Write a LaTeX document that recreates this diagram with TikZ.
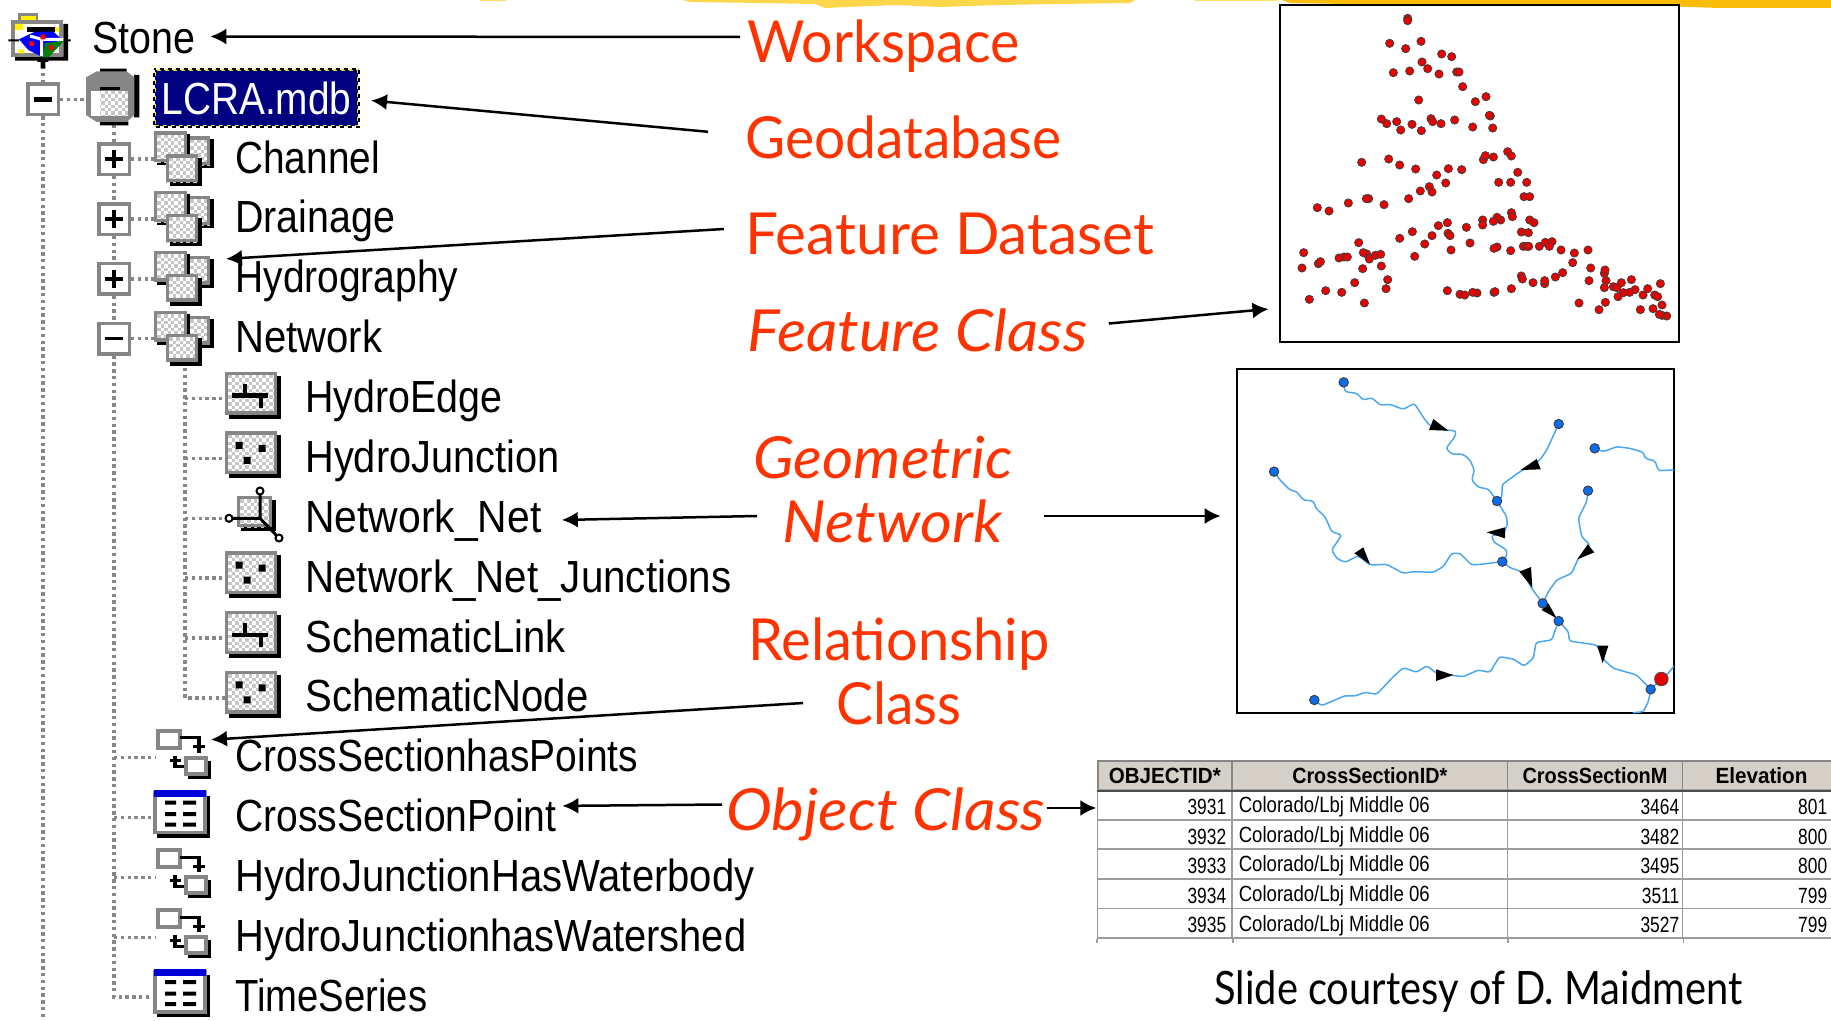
\documentclass[tikz,border=0pt]{standalone}
\usepackage{fontspec}
\usepackage{graphicx}
\usetikzlibrary{arrows.meta,backgrounds}
\setmainfont{Liberation Sans}
\newfontfamily\lblfont{Lato}
\newfontfamily\cellfont[FakeStretch=0.79]{Liberation Sans}
\newlength\pxu \setlength\pxu{0.5pt}
\newcommand\tw[2]{\resizebox{#1\pxu}{\height}{#2}}
\definecolor{wingray}{HTML}{868686}
\definecolor{chkgray}{HTML}{C6C6C6}
\definecolor{lblred}{HTML}{FF3300}
\definecolor{riverblue}{HTML}{4AA8F2}
\definecolor{nodeblue}{HTML}{0A6CF0}
\definecolor{hdrgray}{HTML}{D4D0C8}
\definecolor{cellline}{HTML}{9C9C9C}
\newcommand\chk[4]{%
  \fill[white] (#1,#2) rectangle (#3,#4);
  \begin{scope}
    \clip (#1,#2) rectangle (#3,#4);
    \foreach \k in {0,...,11} {
      \pgfmathsetmacro\yy{#2+1.7+3.4*\k}
      \pgfmathsetmacro\ph{mod(\k,2)*1.7}
      \draw[chkgray,line width=1.7pt,dash pattern=on 1.7pt off 1.7pt,dash phase=\ph pt] (#1,\yy) -- (#3,\yy);
    }
  \end{scope}}
\newcommand\frm[4]{\draw[wingray,line width=1.7pt] (#1+1.7,#2+1.7) rectangle (#3-1.7,#4-1.7);}
\tikzset{
  tree/.style={anchor=base west,inner sep=0pt,yshift=-0.75pt,font=\fontsize{22.5}{24}\selectfont},
  lbl/.style={anchor=base west,inner sep=0pt,text=lblred,text height=21pt,text depth=6pt,font=\lblfont\fontsize{29}{30}\selectfont},
  lbli/.style={lbl,font=\lblfont\itshape\fontsize{29}{30}\selectfont},
  arr/.style={draw=black,line width=1.25pt,-{Latex[length=8pt,width=8pt]}},
  dots/.style={wingray,line width=1.7pt,dash pattern=on 1.7pt off 1.7pt},
  bx/.style={draw=wingray,fill=white,line width=1.7pt,minimum size=15.2pt,inner sep=0pt},
  mapframe/.style={draw=black,fill=white,line width=1pt,inner sep=0pt},
  sign/.style={black,line width=2.2pt},
  cell/.style={draw=cellline,line width=0.8pt,inner sep=0pt,minimum height=14.75pt,font=\cellfont\fontsize{11}{12}\selectfont},
  hdr/.style={draw=wingray,fill=hdrgray,line width=0.9pt,inner sep=0pt,minimum height=14.5pt,font=\bfseries\fontsize{11}{12}\selectfont},
  river/.style={riverblue,line width=0.75pt,line join=round,line cap=round,rounded corners=1.2pt},
  mdot/.style={draw=black!75,fill=red!92!black,line width=0.4pt},
  ndot/.style={draw=black!75,fill=nodeblue,line width=0.5pt},
  dsicon/.pic={
    \fill[black] (5,-20) rectangle (30,9);
    \chk{3}{-23}{26}{6}\frm{3}{-23}{26}{6}
    \fill[black] (-27,-25) rectangle (6,6);
    \chk{-30}{-28}{3}{3}\frm{-30}{-28}{3}{3}
    \fill[black] (-14,-1) rectangle (18,27);
    \chk{-18}{-5}{14}{23}\frm{-18}{-5}{14}{23}
  },
  lineicon/.pic={
    \fill[black] (4,-23) rectangle (56,20);
    \chk{0}{-27}{52}{16}\frm{0}{-27}{52}{16}
    \draw[black,line width=2.3pt] (7,-3) -- (43,-3) (20,-15) -- (20,-3) (36,-3) -- (36,9);
  },
  pointicon/.pic={
    \fill[black] (4,-23) rectangle (56,20);
    \chk{0}{-27}{52}{16}\frm{0}{-27}{52}{16}
    \fill[black] (10.5,-16.5) rectangle (17.5,-9.5) (33.5,-13.5) rectangle (40.5,-6.5) (18.5,-1.5) rectangle (25.5,5.5);
  },
  relicon/.pic={
    \fill[white] (-28,-28) rectangle (-5,-9);
    \draw[wingray,line width=2pt] (-27,-27) rectangle (-5,-10);
    \draw[black,line width=1.7pt] (-5,-20) -- (14,-20) -- (14,-15);
    \draw[black,line width=1.7pt] (8,-11) -- (20,-11) (14,-17) -- (14,-5);
    \draw[black,line width=1.7pt] (-15,3) -- (-4,3) (-10,-2) -- (-10,8) (-10,3) -- (-10,9) -- (1,9);
    \fill[black] (3,3) rectangle (26,21);
    \fill[white] (0,-1) rectangle (22,17);
    \draw[wingray,line width=2pt] (1,0) rectangle (21,16);
  },
  tblicon/.pic={
    \fill[black] (-27,-22) rectangle (26,20);
    \fill[white] (-30,-27) rectangle (22,16);
    \draw[wingray,line width=1.7pt] (-29,-25) rectangle (21,15);
    \fill[blue!85!black] (-30,-28) rectangle (22,-21);
    \foreach \ty in {-15,-3.5,7} {
      \fill[black] (-19,\ty-2) rectangle (-8,\ty+2) (-1,\ty-2) rectangle (12,\ty+2);
    }
  },
}
\begin{document}
\begin{tikzpicture}[x=0.5pt,y=-0.5pt]
\useasboundingbox (0,0) rectangle (1831,1021);

% --- yellow streaks along the top edge
\fill[yellow!55!orange!60] (480,0) -- (506,0) -- (506,1) -- (480,1) -- cycle;
\fill[yellow!60!orange!70] (683,0) -- (1135,0) -- (1130,3) -- (1060,4) -- (1000,5) -- (940,7) -- (895,5) -- (825,8) -- (815,4) -- (760,3) -- (690,2) -- cycle;
\fill[yellow!70!orange!60] (1195,0) -- (1277,0) -- (1277,1) -- (1195,1) -- cycle;
\fill[yellow!50!orange] (1282,0) -- (1831,0) -- (1831,8) -- (1720,8) -- (1690,7) -- (1600,4) -- (1400,5) -- (1290,3) -- cycle;

% --- Stone icon (zoom-crop coordinates)
\begin{scope}[x=0.16667pt,y=-0.16667pt]
  \fill[wingray] (55,38) rectangle (115,62);
  \fill[yellow] (62,48) rectangle (108,60);
  \fill[black] (45,170) rectangle (204,182) (190,72) rectangle (204,182);
  \fill[wingray] (33,60) rectangle (190,170);
  \fill[white] (45,72) rectangle (178,158);
  \fill[yellow] (45,72) rectangle (70,90) (160,82) rectangle (178,95) (55,148) rectangle (72,160);
  \fill[black] (80,82) rectangle (165,96);
  \fill[blue] (57,118) -- (105,95) -- (160,95) -- (182,115) -- (125,170) -- (85,150) -- cycle;
  \fill[black] (25,118) rectangle (57,124) (182,118) rectangle (212,124);
  \fill[green!50!black] (135,130) -- (192,122) -- (125,195) -- cycle;
  \fill[black] (112,172) rectangle (145,186) (122,186) rectangle (136,205);
  \draw[white,line width=1.5pt] (90,108) -- (125,118) -- (125,168) (125,118) -- (190,118);
  \fill[red] (88,124) rectangle (102,138) (122,104) rectangle (136,118) (147,136) rectangle (160,150);
\end{scope}

% --- geodatabase icon
\begin{scope}[x=0.16667pt,y=-0.16667pt]
  \fill[black] (402,225) rectangle (418,352) (300,206) rectangle (380,218) (300,364) rectangle (385,376);
  \fill[wingray] (258,232) -- (290,214) -- (380,214) -- (403,232) -- (403,345) -- (380,366) -- (290,366) -- (258,345) -- cycle;
  \fill[black] (300,260) rectangle (360,270);
\end{scope}
\chk{91}{91}{128}{116}
\fill[white] (91,91) rectangle (100,116);

% --- tree: expander boxes
\node[bx] (bxLCRA) at (43,99.35) {};
\node[bx] (bxChannel) at (114,159.2) {};
\node[bx] (bxDrainage) at (114,219.05) {};
\node[bx] (bxHydro) at (114,278.9) {};
\node[bx] (bxNetwork) at (114,338.75) {};
\draw[sign] (bxLCRA.center) ++(-9,0) -- ++(18,0);
\draw[sign] (bxChannel.center) ++(-9,0) -- ++(18,0) (bxChannel.center) ++(0,-9) -- ++(0,18);
\draw[sign] (bxDrainage.center) ++(-9,0) -- ++(18,0) (bxDrainage.center) ++(0,-9) -- ++(0,18);
\draw[sign] (bxHydro.center) ++(-9,0) -- ++(18,0) (bxHydro.center) ++(0,-9) -- ++(0,18);
\draw[black,line width=1.5pt] (bxNetwork.center) ++(-9,0) -- ++(18,0);

% --- tree: icon anchor coordinates and icons
\coordinate (icStone) at (43,66);
\coordinate (icDB) at (86,99.35);
\coordinate (icDBb) at (114,125);
\coordinate (icChannel) at (184,159.2);
\coordinate (icDrainage) at (184,219.05);
\coordinate (icHydro) at (184,278.9);
\coordinate (icNetwork) at (184,338.75);
\coordinate (icNetB) at (185,368);
\coordinate (icEdge) at (225,398.6);
\coordinate (icJunc) at (225,458.45);
\coordinate (icNet) at (225,518.3);
\coordinate (icNetJ) at (225,578.15);
\coordinate (icSLink) at (225,638);
\coordinate (icSNode) at (225,697.85);
\coordinate (icCSP) at (155,757.7);
\coordinate (icCSPt) at (155,817.55);
\coordinate (icHJW) at (155,877.4);
\coordinate (icHJS) at (155,937.25);
\coordinate (icTS) at (155,997.1);
\coordinate (spineEnd) at (43,1021);
\pic at (icChannel) {dsicon};
\pic at (icDrainage) {dsicon};
\pic at (icHydro) {dsicon};
\pic at (icNetwork) {dsicon};
\pic at (icEdge) {lineicon};
\pic at (icJunc) {pointicon};
\pic at (icNetJ) {pointicon};
\pic at (icSLink) {lineicon};
\pic at (icSNode) {pointicon};
% network icon
\fill[black] (241,500) rectangle (276,531);
\chk{237}{496}{272}{527}\frm{237}{496}{272}{527}
\draw[black,line width=1.5pt] (260,518.3) -- (260,495) (260,518.3) -- (232,518.3) (260,518.3) -- (278,537);
\draw[black,fill=white,line width=1pt] (260,491) circle (3.5) (229,518.3) circle (3.5) (279,538) circle (3.5);
\pic at (185,757.7) {relicon};
\pic at (184,817.55) {tblicon};
\pic at (185,877.4) {relicon};
\pic at (185,937.25) {relicon};
\pic at (184,997.1) {tblicon};

% --- tree: labels
\node[tree] (tStone) at (92,52) {\tw{103}{Stone}};
\node[fill=blue!50!black,draw=yellow!90!black,dash pattern=on 2pt off 2pt,line width=1pt,minimum width=101.5pt,minimum height=28pt,inner sep=0pt,text=white,font=\fontsize{22.5}{24}\selectfont] (tLCRA) at (256.5,98) {\tw{190}{LCRA.mdb}};
\draw[black,line width=1pt,dash pattern=on 2pt off 2pt,dash phase=2pt] (tLCRA.north west) rectangle (tLCRA.south east);
\node[tree] (tChannel) at (235,171.7) {\tw{144.5}{Channel}};
\node[tree] (tDrainage) at (235,231.5) {\tw{159.7}{Drainage}};
\node[tree] (tHydro) at (235,291.4) {\tw{223}{Hydrography}};
\node[tree] (tNetwork) at (235,351.2) {\tw{147}{Network}};
\node[tree] (tEdge) at (305,411) {\tw{197}{HydroEdge}};
\node[tree] (tJunc) at (305,471) {\tw{254}{HydroJunction}};
\node[tree] (tNet) at (305,530.8) {\tw{236}{Network\_Net}};
\node[tree] (tNetJ) at (305,590.6) {\tw{426}{Network\_Net\_Junctions}};
\node[tree] (tSLink) at (305,650.5) {\tw{260}{SchematicLink}};
\node[tree] (tSNode) at (305,710.3) {\tw{283}{SchematicNode}};
\node[tree] (tCSP) at (235,770.2) {\tw{402.6}{CrossSectionhasPoints}};
\node[tree] (tCSPt) at (235,830) {\tw{321}{CrossSectionPoint}};
\node[tree] (tHJW) at (235,889.9) {\tw{519}{HydroJunctionHasWaterbody}};
\node[tree] (tHJS) at (235,949.7) {\tw{511}{HydroJunctionhasWatershed}};
\node[tree] (tTS) at (235,1009.6) {\tw{192}{TimeSeries}};

% --- tree: dotted connectors
\begin{pgfonlayer}{background}
  \draw[dots] (icStone) -- (bxLCRA.north);
  \draw[dots] (bxLCRA.south) -- (spineEnd);
  \draw[dots] (bxLCRA.east) -- (icDB);
  \draw[dots] (icDBb) -- (bxChannel.north);
  \draw[dots] (bxChannel.south) -- (bxDrainage.north);
  \draw[dots] (bxDrainage.south) -- (bxHydro.north);
  \draw[dots] (bxHydro.south) -- (bxNetwork.north);
  \draw[dots] (bxNetwork.south) -- (114,997.1) -- (icTS);
  \draw[dots] (bxChannel.east) -- (icChannel);
  \draw[dots] (bxDrainage.east) -- (icDrainage);
  \draw[dots] (bxHydro.east) -- (icHydro);
  \draw[dots] (bxNetwork.east) -- (icNetwork);
  \draw[dots] (icNetB) -- (185,697.85) -- (icSNode);
  \draw[dots] (185,398.6) -- (icEdge);
  \draw[dots] (185,458.45) -- (icJunc);
  \draw[dots] (185,518.3) -- (icNet);
  \draw[dots] (185,578.15) -- (icNetJ);
  \draw[dots] (185,638) -- (icSLink);
  \draw[dots] (114,757.7) -- (icCSP);
  \draw[dots] (114,817.55) -- (icCSPt);
  \draw[dots] (114,877.4) -- (icHJW);
  \draw[dots] (114,937.25) -- (icHJS);
\end{pgfonlayer}

% --- red labels
\node[lbl] (lWork) at (747,63) {\tw{272}{Workspace}};
\node[lbl] (lGeo) at (745,158.8) {\tw{316}{Geodatabase}};
\node[lbl] (lFD) at (745,254.5) {\tw{409}{Feature Dataset}};
\node[lbli] (lFC) at (747,351) {\tw{340}{Feature Class}};
\node[lbli] (lGeom) at (753,478) {\tw{259}{Geometric}};
\node[lbli] (lNet) at (782,542) {\tw{220}{Network}};
\node[lbl] (lRel) at (748,660) {\tw{301}{Relationship}};
\node[lbl] (lCls) at (836,724) {\tw{125}{Class}};
\node[lbli] (lObj) at (726,830) {\tw{319}{Object Class}};
\node[anchor=base west,inner sep=0pt,text=black,font=\lblfont\fontsize{23}{24}\selectfont] (lSlide) at (1214,1004) {\tw{528}{Slide courtesy of D. Maidment}};

% --- point map
\node[mapframe,minimum width=199.5pt,minimum height=168.5pt] (ptmap) at (1479.5,173.5) {};
\begin{scope}[shift={(1270,0)},x=0.16667pt,y=-0.16667pt]
  \foreach \px/\py in {413/55,413/62,359/130,407/146,453/124,515/162,545/170,456/186,473/206,419/213,370/218,507/222,560/216,567/216,578/260,446/300,616/305,648/290,661/348,658/346,334/357,350/371,380/365,392/390,426/373,454/392,483/356,488/365,513/371,554/360,608/381,668/384,713/455,724/468,670/471,640/479,646/467,275/487,356/477,389/495,437/507,535/506,575/509,500/525,527/549,743/517,686/547,722/547,770/547,478/560,486/576,451/573,416/596,762/590,779/590,296/596,289/596,235/609,142/623,177/633,342/614,724/638,727/650,692/660,681/652,670/664,638/660,638/675,779/660,792/668,532/668,505/677,589/682,427/695,389/715,486/707,534/700,540/707,754/696,775/698,464/732,600/729,543/750,681/741,672/745,722/752,760/739,770/739,776/739,808/739,846/725,826/727,838/739,873/750,913/759,954/750,266/728,101/758,290/762,280/758,298/777,316/766,332/763,207/774,222/771,232/771,145/791,151/785,96/804,278/806,334/798,353/839,254/848,348/866,167/872,215/877,118/898,283/909,434/769,532/872,570/883,584/885,621/879,608/877,672/877,675/875,724/866,754/828,757/837,789/848,824/851,824/842,856/831,878/818,908/788,962/804,957/842,1003/820,1005/810,1008/842,1003/863,1030/860,1041/863,1054/848,1084/839,1095/869,1079/877,1060/878,1044/890,1119/885,1133/866,1171/851,1154/885,1163/890,1176/915,1006/907,927/909,987/929,1111/929,1149/926,1190/948,1176/946,1168/943}
    {\path[mdot] (\px,\py) circle (2.05pt);}
\end{scope}

% --- network map
\node[mapframe,minimum width=218.8pt,minimum height=171.8pt] (netmap) at (1455.5,541) {};
\begin{scope}[shift={(1230,365)},x=0.16667pt,y=-0.16667pt]
  \draw[river] (341,52)--(345,80)--(380,85)--(400,105)--(425,98)--(450,120)--(480,118)--(520,133)--(553,115)--(585,165)--(610,192)--(650,195)--(678,198)--(675,215)--(648,250)--(665,267)--(700,268)--(720,285)--(733,315)--(725,345)--(745,367)--(775,372)--(801,408);
  \draw[river] (986,177)--(950,255)--(930,285)--(905,300)--(870,320)--(817,358)--(815,400)--(801,408);
  \draw[river] (132,320)--(150,345)--(180,375)--(200,380)--(220,405)--(250,408)--(258,430)--(285,455)--(305,500)--(335,510)--(305,555)--(320,580)--(345,592)--(385,572)--(420,600)--(470,598)--(520,625)--(550,620)--(610,622)--(640,605)--(665,565)--(690,565)--(725,600)--(760,597)--(817,590);
  \draw[river] (801,408)--(830,455)--(832,480)--(818,510)--(785,510)--(790,530)--(830,555)--(830,572)--(817,590);
  \draw[river] (817,590)--(840,608)--(880,622)--(905,670)--(938,715);
  \draw[river] (1074,377)--(1070,410)--(1045,460)--(1055,515)--(1080,540)--(1045,580)--(1025,625)--(980,645)--(955,680)--(938,715);
  \draw[river] (938,715)--(986,768);
  \draw[river] (986,768)--(1015,800)--(1018,828)--(1100,840)--(1122,885)--(1150,910)--(1220,930)--(1262,973);
  \draw[river] (253,1005)--(275,1022)--(345,992)--(375,993)--(405,982)--(440,988)--(490,935)--(520,908)--(560,922)--(590,902)--(620,925)--(700,935)--(745,915)--(780,922)--(808,875)--(850,882)--(882,903)--(910,880)--(918,832)--(965,825)--(986,768);
  \draw[river] (1094,250)--(1120,260)--(1160,245)--(1200,250)--(1240,262)--(1245,280)--(1275,288)--(1285,317)--(1330,315);
  \draw[river] (1262,973)--(1255,1010)--(1240,1040)--(1210,1043);
  \draw[river] (1262,973)--(1295,940)--(1315,925)--(1330,905);
  \fill[black] (597,195)--(610,162)--(655,197)--cycle;
  \fill[black] (872,315)--(920,282)--(932,313)--cycle;
  \fill[black] (770,502)--(825,487)--(825,520)--cycle;
  \fill[black] (373,565)--(400,547)--(420,598)--cycle;
  \fill[black] (1042,583)--(1073,538)--(1093,562)--cycle;
  \fill[black] (868,620)--(903,606)--(907,668)--cycle;
  \fill[black] (935,735)--(955,715)--(980,760)--cycle;
  \fill[black] (1102,842)--(1135,842)--(1118,895)--cycle;
  \fill[black] (618,913)--(670,930)--(618,948)--cycle;
  \foreach \px/\py in {341/52,986/177,1094/250,132/320,801/408,1074/377,817/590,938/715,986/768,1262/973,253/1005}
    {\path[ndot] (\px,\py) circle (2.35pt);}
  \path[draw=black!70,fill=red!90!black,line width=0.4pt] (1294,942) circle (3.4pt);
\end{scope}

% --- table
\node[hdr,minimum width=67.2pt] (h1) at (1164.8,775.5) {\tw{112}{OBJECTID*}};
\node[hdr,minimum width=137.7pt] (h2) at (1369.75,775.5) {\tw{155}{CrossSectionID*}};
\node[hdr,minimum width=87.5pt] (h3) at (1595,775.5) {\tw{145}{CrossSectionM}};
\node[hdr,minimum width=79pt] (h4) at (1761.5,775.5) {\tw{92}{Elevation}};
\foreach \r/\yc/\a/\c/\d in {1/805/3931/3464/801,2/834.5/3932/3482/800,3/864.2/3933/3495/800,4/893.9/3934/3511/799,5/923.4/3935/3527/799} {
  \node[cell,minimum width=67.2pt] (c\r1) at (1164.8,\yc) {};
  \node[cell,minimum width=137.7pt] (c\r2) at (1369.75,\yc) {};
  \node[cell,minimum width=87.5pt] (c\r3) at (1595,\yc) {};
  \node[cell,minimum width=85pt] (c\r4) at (1767.5,\yc) {};
  \node[cell,draw=none,minimum height=0pt,anchor=east] (a\r) at (1227,\yc+2) {\a};
  \node[cell,draw=none,minimum height=0pt,anchor=west] (b\r) at (1238,\yc+2) {\tw{191}{Colorado/Lbj Middle 06}};
  \node[cell,draw=none,minimum height=0pt,anchor=east] (e\r) at (1680,\yc+2) {\c};
  \node[cell,draw=none,minimum height=0pt,anchor=east] (f\r) at (1828,\yc+2) {\d};
}
\draw[black!70,line width=0.9pt] (h1.south west) -- (h4.south east);
\draw[cellline,line width=0.8pt] (c51.south west) -- ++(0,4) (c51.south east) -- ++(0,4) (c52.south east) -- ++(0,4) (c53.south east) -- ++(0,4);

% --- arrows
\draw[arr] ([shift={(-7,-11)}]lWork.west) -- ([shift={(14.5,-1.5)}]tStone.east);
\draw[arr] ([shift={(-37,-12)}]lGeo.west) -- ([shift={(12,2.5)}]tLCRA.east);
\draw[arr] ([shift={(-21,-10.5)}]lFD.west) -- ([shift={(-9,-1)}]tHydro.north west);
\draw[arr] ([shift={(21,-12.5)}]lFC.east) -- ([shift={(-10.5,-34)}]ptmap.south west);
\draw[arr] ([shift={(-25,-11)}]lNet.west) -- ([shift={(20,-0.5)}]tNet.east);
\draw[arr] ([shift={(41,-11)}]lNet.east) -- ([shift={(-15,-25)}]netmap.west);
\draw[arr] ([shift={(-33,-6)}]lCls.west) -- ([shift={(-24,1)}]tCSP.north west);
\draw[arr] ([shift={(-4,-10.5)}]lObj.west) -- ([shift={(5.5,-9.5)}]tCSPt.east);
\draw[arr] ([shift={(1,-7)}]lObj.east) -- ([shift={(-0.5,3)}]c11.west);
\end{tikzpicture}
\end{document}
